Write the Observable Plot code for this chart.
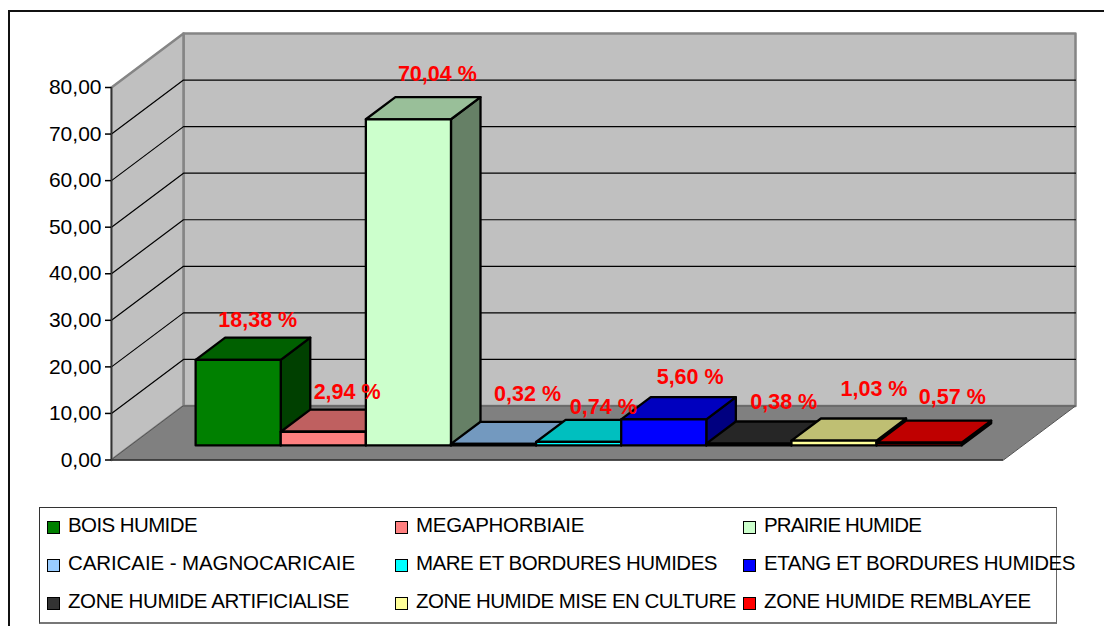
<!DOCTYPE html>
<html>
<head>
<meta charset="utf-8">
<script src="https://cdn.jsdelivr.net/npm/d3@7"></script>
<script src="https://cdn.jsdelivr.net/npm/@observablehq/plot@0.6"></script>
<style>
  html, body { margin: 0; padding: 0; background: #fff; }
  #page { position: relative; width: 1104px; height: 626px; overflow: hidden; font-family: "Liberation Sans", Arial, sans-serif; }
  #frame { position: absolute; left: 8px; top: 10px; right: -4px; bottom: -4px; border: 2.5px solid #111; z-index: 2; pointer-events: none; }
  #chart svg { display: block; }
  #legend { position: absolute; left: 39px; top: 507px; width: 1018px; height: 117px; box-sizing: border-box; border: 1px solid #333; border-right-color: #666; border-bottom: 2px solid #777; }
  .swatch { position: absolute; box-sizing: border-box; width: 13px; height: 13px; border: 1.5px solid #000; }
  .name { position: absolute; font-size: 20.5px; line-height: 24px; color: #000; white-space: nowrap; }
</style>
</head>
<body>
<div id="page">
  <div id="chart"></div>
  <div id="legend"></div>
  <div id="frame"></div>
</div>
<script>
// ---- data ----
const categories = [
  "BOIS HUMIDE", "MEGAPHORBIAIE", "PRAIRIE HUMIDE",
  "CARICAIE - MAGNOCARICAIE", "MARE ET BORDURES HUMIDES", "ETANG ET BORDURES HUMIDES",
  "ZONE HUMIDE ARTIFICIALISE", "ZONE HUMIDE MISE EN CULTURE", "ZONE HUMIDE REMBLAYEE"
];
const values = [18.38, 2.94, 70.04, 0.32, 0.74, 5.60, 0.38, 1.03, 0.57];
const colors = ["#008000", "#FF8080", "#CCFFCC", "#99CCFF", "#00FFFF", "#0000FF", "#333333", "#FFFF99", "#FF0000"];
const yTicks = [0, 10, 20, 30, 40, 50, 60, 70, 80];
// hand-placed label offsets, in data units (bars along x, value units along y)
const labelShift = [0.23, 0.28, 0.34, 0.40, 0.29, 0.31, 0.41, 0.47, 0.39];
const labelLift = [8.6, 8.6, 9.7, 10.7, 7.5, 9, 9, 11, 9.9];
// measured run length of each legend name in the reference
const legendTextWidths = [129, 168, 157, 287, 301, 311, 281, 320, 267];

// ---- oblique 3D model, in data units ----
const xSpan = 10.48;            // floor width, in bar widths
const depthX = 0.846;           // full depth expressed along x
const depthY = 11.6;            // full depth expressed along y
const firstBar = 0.76;          // gap before the first bar
const depthNear = 0.27, depthFar = 0.68;

const P = (x, v, d, face, fill) => ({px: x + d * depthX, py: v + d * depthY, face, fill});
const poly = (face, fill, corners) => corners.map(([x, v, d]) => P(x, v, d, face, fill));
const shade = (c, k) => { const r = d3.rgb(c); return d3.rgb(r.r * k, r.g * k, r.b * k).formatHex(); };

const yTop = 80;
const backWall = poly("back", "#C0C0C0", [[0, 0, 1], [xSpan, 0, 1], [xSpan, yTop, 1], [0, yTop, 1]]);
const leftWall = poly("left", "#C0C0C0", [[0, 0, 0], [0, 0, 1], [0, yTop, 1], [0, yTop, 0]]);
const floor = poly("floor", "#808080", [[0, 0, 0], [xSpan, 0, 0], [xSpan, 0, 1], [0, 0, 1]]);

const grid = yTicks.filter(v => v > 0 && v < yTop).flatMap(v =>
  [[0, v, 0], [0, v, 1], [xSpan, v, 1]].map(([x, y, d]) => P(x, y, d, "g" + v)));

const faces = values.flatMap((v, i) => {
  const x0 = firstBar + i, x1 = x0 + 1, n = depthNear, f = depthFar, c = colors[i];
  return [
    ...poly(`s${i}`, shade(c, 0.5), [[x1, 0, n], [x1, 0, f], [x1, v, f], [x1, v, n]]),
    ...poly(`t${i}`, shade(c, 0.75), [[x0, v, n], [x1, v, n], [x1, v, f], [x0, v, f]]),
    ...poly(`f${i}`, c, [[x0, 0, n], [x1, 0, n], [x1, v, n], [x0, v, n]])
  ];
});

const labels = values.map((v, i) => ({
  x: firstBar + i + 0.5 + depthNear * depthX + labelShift[i],
  y: v + depthNear * depthY + labelLift[i],
  text: v.toFixed(2).replace(".", ",") + " %"
}));

const fr = v => v.toFixed(2).replace(".", ",");
const closed = {x: "px", y: "py", z: "face", fill: "fill", curve: "linear-closed"};

const chart = Plot.plot({
  width: 1104, height: 500,
  marginLeft: 111, marginRight: 101, marginTop: 87, marginBottom: 40.5,
  style: {fontFamily: '"Liberation Sans", Arial, sans-serif', background: "transparent"},
  x: {domain: [0, xSpan], axis: null},
  y: {domain: [0, yTop], axis: null},
  marks: [
    Plot.line(backWall, {...closed, stroke: "#858585", strokeWidth: 2.5}),
    Plot.line(leftWall, {...closed, stroke: "#858585", strokeWidth: 2.5}),
    Plot.line(floor, {...closed, stroke: "#555", strokeWidth: 1}),
    Plot.line(grid, {x: "px", y: "py", z: "face", stroke: "#000", strokeWidth: 1.2}),
    Plot.ruleX([0], {y1: 0, y2: yTop, stroke: "#333", strokeWidth: 1.5}),
    Plot.ruleY([0], {x1: 0, x2: xSpan, stroke: "#333", strokeWidth: 1.5}),
    Plot.axisY({ticks: yTicks, tickFormat: fr, label: null, tickSize: 6, tickPadding: 4, fontSize: 21, fill: "#000", stroke: "#000", strokeWidth: 1.5}),
    Plot.line(faces, {...closed, stroke: "#000", strokeWidth: 2.3, strokeLinejoin: "round"}),
    Plot.text(labels, {x: "x", y: "y", text: "text", fill: "#FF0000", fontSize: 21.5, fontWeight: "bold", textAnchor: "middle", lineAnchor: "middle"})
  ]
});
document.getElementById("chart").append(chart);

// ---- legend below the plot ----
const legend = document.getElementById("legend");
const colX = [7, 355, 703];
const rowY = [13, 51, 89];
categories.forEach((name, i) => {
  const cx = colX[i % 3], ry = rowY[Math.floor(i / 3)];
  const sw = document.createElement("span");
  sw.className = "swatch";
  sw.style.left = cx + "px";
  sw.style.top = ry + "px";
  sw.style.background = colors[i];
  const label = document.createElement("span");
  label.className = "name";
  label.style.left = (cx + 21) + "px";
  label.style.top = (ry - 8) + "px";
  label.textContent = name;
  legend.append(sw, label);
  const w = label.getBoundingClientRect().width;
  label.style.letterSpacing = ((legendTextWidths[i] - w) / name.length) + "px";
});
</script>
</body>
</html>
